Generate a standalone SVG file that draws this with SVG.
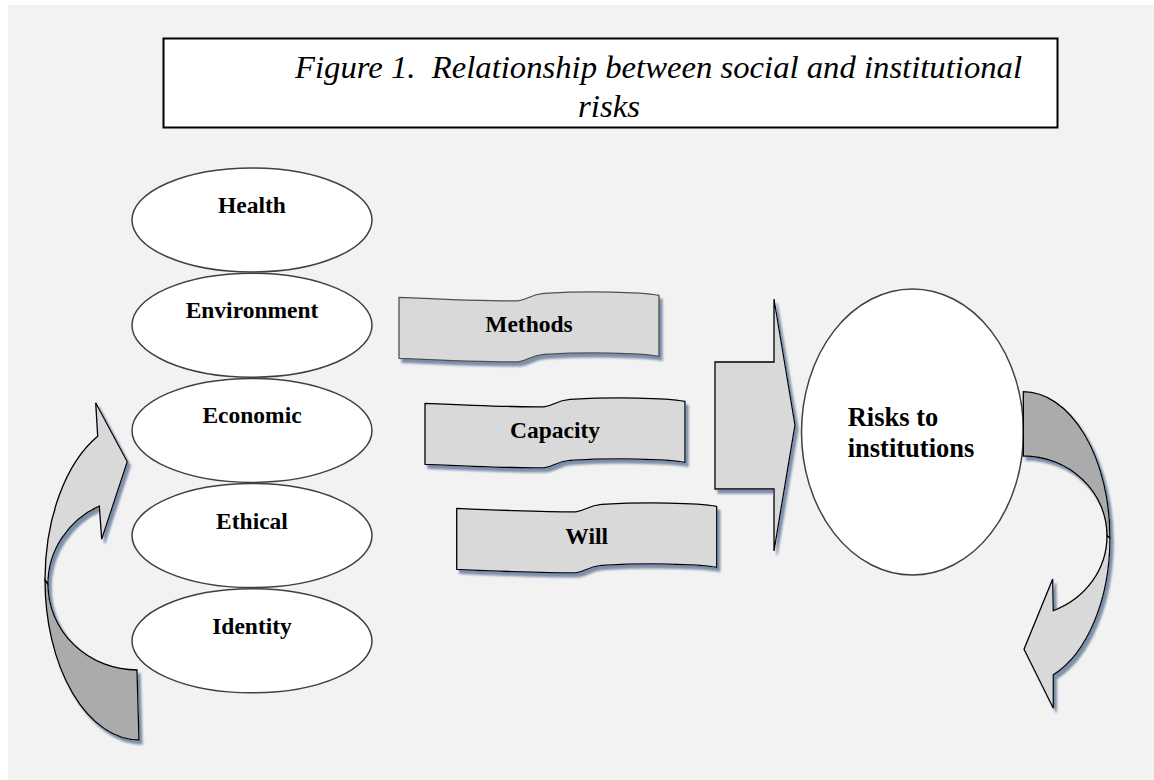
<svg xmlns="http://www.w3.org/2000/svg" width="1154" height="780" viewBox="0 0 1154 780">
  <style>
    .oval { fill: #ffffff; stroke: #404040; stroke-width: 1.5; }
    .band { fill: #d9d9d9; stroke: #000000; stroke-width: 1.3; stroke-linejoin: round; }
    .block { fill: #d9d9d9; stroke: #000000; stroke-width: 1.3; stroke-linejoin: miter; }
    .back { fill: #ababab; stroke: #000000; stroke-width: 1.3; }
    .front { fill: #d9d9d9; stroke: #000000; stroke-width: 1.3; stroke-linejoin: miter; }
    .lbl { font-family: "Liberation Serif", "Times New Roman", serif; font-weight: bold; font-size: 23.5px; fill: #000000; text-anchor: middle; }
    .big { font-family: "Liberation Serif", "Times New Roman", serif; font-weight: bold; font-size: 26.5px; fill: #000000; }
    .ttl { font-family: "Liberation Serif", "Times New Roman", serif; font-style: italic; font-size: 31px; fill: #000000; }
  </style>
  <defs>
    <filter id="shadow" x="-20%" y="-20%" width="150%" height="150%">
      <feGaussianBlur in="SourceAlpha" stdDeviation="0.9"/>
      <feOffset dx="3" dy="4" result="off"/>
      <feFlood flood-color="#7d8fa9"/>
      <feComposite in2="off" operator="in"/>
      <feMerge>
        <feMergeNode/>
        <feMergeNode in="SourceGraphic"/>
      </feMerge>
    </filter>
    <!-- wavy banner, 260 wide, 61 tall -->
    <path id="wave" d="M0,0 C45,2 95,4 119,3.5 C128,3 131,-3 145,-4 C190,-6.5 240,-5.5 260,-2 L260,59 C240,55.5 190,54.5 145,57 C131,58 128,64 119,64.5 C95,65 45,63 0,61 Z"/>
  </defs>

  <!-- page background -->
  <rect x="0" y="0" width="1154" height="780" fill="#ffffff"/>
  <rect x="8" y="5" width="1146" height="775" fill="#f2f2f2"/>

  <!-- caption box -->
  <g id="title">
    <rect x="163.5" y="38.5" width="894" height="89" fill="#ffffff" stroke="#000000" stroke-width="2"/>
    <text class="ttl" x="295" y="77.5" textLength="727" lengthAdjust="spacingAndGlyphs" xml:space="preserve">Figure 1.  Relationship between social and institutional</text>
    <text class="ttl" x="578" y="116.5" textLength="62" lengthAdjust="spacingAndGlyphs">risks</text>
  </g>

  <!-- social risk categories -->
  <g id="node-health">
    <ellipse class="oval" cx="252" cy="220" rx="120" ry="52"/>
    <text class="lbl" x="252" y="213">Health</text>
  </g>
  <g id="node-environment">
    <ellipse class="oval" cx="252" cy="325.2" rx="120" ry="52"/>
    <text class="lbl" x="252" y="318.2">Environment</text>
  </g>
  <g id="node-economic">
    <ellipse class="oval" cx="252" cy="430.4" rx="120" ry="52"/>
    <text class="lbl" x="252" y="423.4">Economic</text>
  </g>
  <g id="node-ethical">
    <ellipse class="oval" cx="252" cy="535.6" rx="120" ry="52"/>
    <text class="lbl" x="252" y="528.6">Ethical</text>
  </g>
  <g id="node-identity">
    <ellipse class="oval" cx="252" cy="640.8" rx="120" ry="52"/>
    <text class="lbl" x="252" y="633.8">Identity</text>
  </g>

  <!-- institutional factors -->
  <g id="node-methods" transform="translate(399,297.3)">
    <use href="#wave" class="band" style="stroke:#505050" filter="url(#shadow)"/>
    <text class="lbl" x="130" y="35">Methods</text>
  </g>
  <g id="node-capacity" transform="translate(425,403.3)">
    <use href="#wave" class="band" filter="url(#shadow)"/>
    <text class="lbl" x="130" y="35">Capacity</text>
  </g>
  <g id="node-will" transform="translate(456.7,508.3)">
    <use href="#wave" class="band" filter="url(#shadow)"/>
    <text class="lbl" x="130" y="35.5">Will</text>
  </g>

  <!-- outcome -->
  <g id="node-risks">
    <ellipse class="oval" cx="912.5" cy="432" rx="111" ry="143"/>
    <text class="big" x="847.7" y="426">Risks to</text>
    <text class="big" x="847.7" y="456.7">institutions</text>
  </g>

  <!-- block arrows -->
  <g id="connectors">
    <path class="block" filter="url(#shadow)" d="M715,362 L774,362 L774,299 L795,425 L774,551 L774,489 L715,489 Z"/>

    <!-- left loop: tail at bottom, head pointing right -->
    <g id="loop-left" filter="url(#shadow)">
      <path class="back" d="M137,670 A89,86 0 0 1 48,584 L45,580 A94,160 0 0 0 139,740 Z"/>
      <path class="front" d="M97.7,436.3 A94,160 0 0 0 45,580 L48,584 A89,86 0 0 1 99.3,506.1 L101.7,539.3 L127.3,461.7 L95.7,402.7 Z"/>
    </g>

    <!-- right loop: tail at the ellipse, head pointing left -->
    <g id="loop-right" filter="url(#shadow)">
      <path class="back" d="M1023.3,391.7 A87,146 0 0 1 1110,538 L1107,536 A84,80 0 0 0 1023.3,456 Z"/>
      <path class="front" d="M1110,538 A87,146 0 0 1 1053.3,674.9 L1053.3,708.3 L1024,649.3 L1052.7,579 L1053.3,610.6 A84,80 0 0 0 1107,536 Z"/>
    </g>
  </g>
</svg>
